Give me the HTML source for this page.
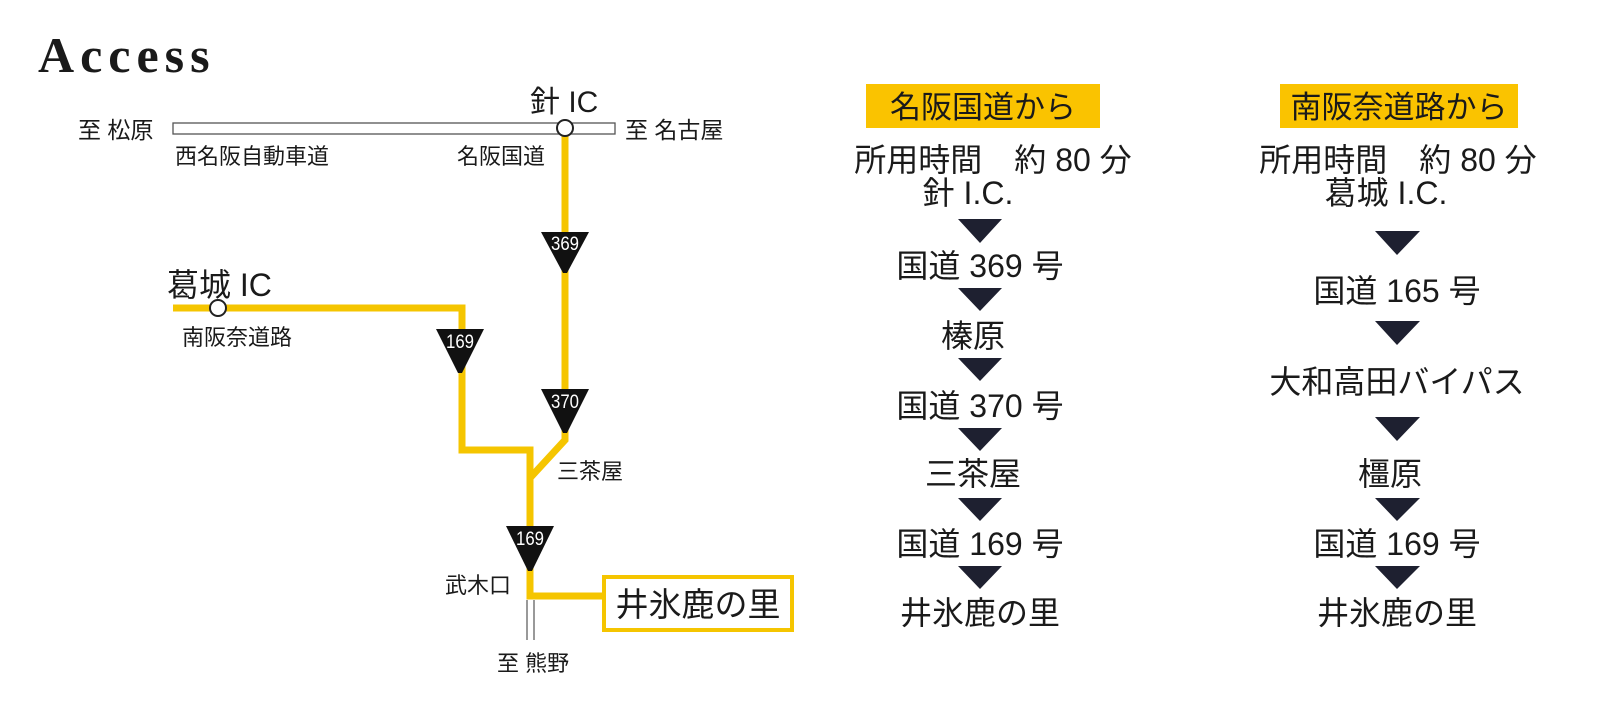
<!DOCTYPE html>
<html><head><meta charset="utf-8"><style>
html,body{margin:0;padding:0;background:#fff;}
svg{display:block;}
text{font-family:"Liberation Sans","Noto Sans CJK JP",sans-serif;fill:#1a1a1a;}
</style></head><body>
<svg width="1599" height="713" viewBox="0 0 1599 713" xmlns="http://www.w3.org/2000/svg">
<text x="38" y="72" style="font-family:'Liberation Serif',serif;font-weight:bold;font-size:50px;letter-spacing:6px">Access</text>

<rect x="173" y="123" width="442" height="11" fill="#fff" stroke="#555" stroke-width="1.3"/>
<text x="78" y="138" font-size="23">至 松原</text>
<text x="625" y="138" font-size="23">至 名古屋</text>
<text x="175" y="164" font-size="22">西名阪自動車道</text>
<text x="457" y="164" font-size="22">名阪国道</text>
<text x="530" y="112" font-size="30">針 IC</text>

<g fill="none" stroke="#f5c500" stroke-width="7">
<polyline points="565,134 565,440 530,478 530,596 604,596"/>
<polyline points="173,308 462,308 462,450 530,450 530,480"/>
</g>
<circle cx="565" cy="128" r="8" fill="#fff" stroke="#222" stroke-width="2"/>
<circle cx="218" cy="308" r="8" fill="#fff" stroke="#222" stroke-width="2"/>
<text x="167" y="296" font-size="32">葛城 IC</text>
<text x="182" y="345" font-size="22">南阪奈道路</text>

<g fill="#111">
<path d="M541,232 L589,232 L567,273 L563,273 Z"/>
<path d="M436,329 L484,329 L462,373 L458,373 Z"/>
<path d="M541,389 L589,389 L567,433 L563,433 Z"/>
<path d="M506,526 L554,526 L532,571 L528,571 Z"/>
</g>
<g font-size="19" text-anchor="middle">
<text x="565" y="250" textLength="28" lengthAdjust="spacingAndGlyphs" style="fill:#fff">369</text>
<text x="460" y="348" textLength="28" lengthAdjust="spacingAndGlyphs" style="fill:#fff">169</text>
<text x="565" y="408" textLength="28" lengthAdjust="spacingAndGlyphs" style="fill:#fff">370</text>
<text x="530" y="545" textLength="28" lengthAdjust="spacingAndGlyphs" style="fill:#fff">169</text>
</g>
<text x="557" y="479" font-size="22">三茶屋</text>
<text x="445" y="593" font-size="22">武木口</text>
<line x1="527" y1="600" x2="527" y2="640" stroke="#555" stroke-width="1.2"/>
<line x1="534" y1="600" x2="534" y2="640" stroke="#555" stroke-width="1.2"/>
<text x="497" y="671" font-size="22">至 熊野</text>
<rect x="604" y="577" width="188" height="53" fill="#fff" stroke="#f5c500" stroke-width="4"/>
<text x="698" y="616" font-size="33" text-anchor="middle">井氷鹿の里</text>

<rect x="866" y="84" width="234" height="44" fill="#fac300"/>
<text x="983" y="118" font-size="31" text-anchor="middle">名阪国道から</text>
<g font-size="32" text-anchor="middle">
<text x="993" y="171">所用時間　約 80 分</text>
<text x="968" y="204">針 I.C.</text>
<text x="980" y="277">国道 369 号</text>
<text x="973" y="347">榛原</text>
<text x="980" y="417">国道 370 号</text>
<text x="973" y="485">三茶屋</text>
<text x="980" y="555">国道 169 号</text>
<text x="980" y="624">井氷鹿の里</text>
</g>
<g fill="#1e2030">
<path d="M958,219 L1002,219 L980,243 Z"/>
<path d="M958,288 L1002,288 L980,311 Z"/>
<path d="M958,358 L1002,358 L980,381 Z"/>
<path d="M958,428 L1002,428 L980,451 Z"/>
<path d="M958,498 L1002,498 L980,521 Z"/>
<path d="M958,566 L1002,566 L980,589 Z"/>
</g>

<rect x="1280" y="84" width="238" height="44" fill="#fac300"/>
<text x="1399" y="118" font-size="31" text-anchor="middle">南阪奈道路から</text>
<g font-size="32" text-anchor="middle">
<text x="1398" y="171">所用時間　約 80 分</text>
<text x="1386" y="204">葛城 I.C.</text>
<text x="1397" y="302">国道 165 号</text>
<text x="1397" y="393">大和高田バイパス</text>
<text x="1390" y="485">橿原</text>
<text x="1397" y="555">国道 169 号</text>
<text x="1397" y="624">井氷鹿の里</text>
</g>
<g fill="#1e2030">
<path d="M1375,231 L1420,231 L1397,255 Z"/>
<path d="M1375,321 L1420,321 L1397,345 Z"/>
<path d="M1375,417 L1420,417 L1397,441 Z"/>
<path d="M1375,498 L1420,498 L1397,521 Z"/>
<path d="M1375,566 L1420,566 L1397,589 Z"/>
</g>
</svg>
</body></html>
